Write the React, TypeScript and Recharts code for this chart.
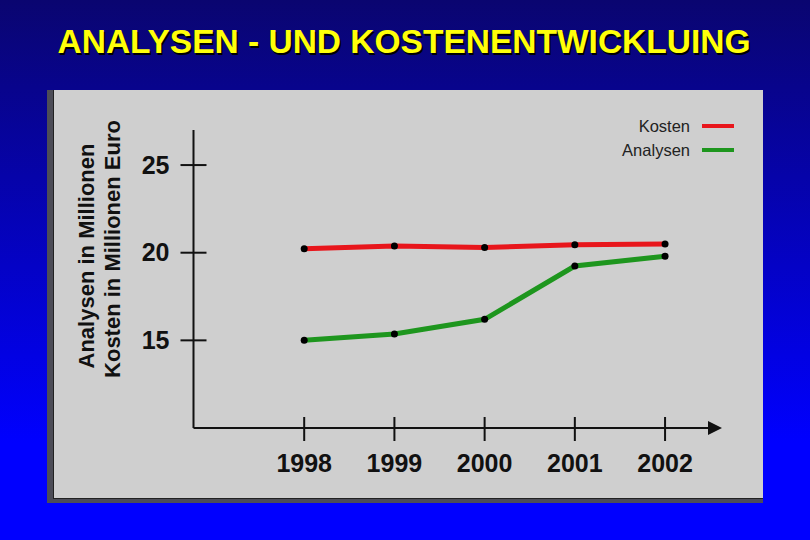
import React from "react"
import { LineChart, Line, XAxis, YAxis, Legend } from "recharts"

const years = [1998, 1999, 2000, 2001, 2002]
const kosten = [20.23, 20.38, 20.3, 20.45, 20.5]
const analysen = [15.0, 15.36, 16.2, 19.24, 19.8]
const seriesNames = ["Kosten", "Analysen"]
const yTicks = [15, 20, 25]
const yLabelLines = ["Analysen in Millionen", "Kosten in Millionen Euro"]
const title = "ANALYSEN - UND KOSTENENTWICKLUING"

const data = years.map((year, i) => ({ year, kosten: kosten[i], analysen: analysen[i] }))

const font = "'Liberation Sans', Arial, sans-serif"
const ink = "#111"

const YTick = (props: any) => {
  const { x, y, payload } = props
  return (
    <g>
      <line x1={x - 13} x2={x + 13} y1={y} y2={y} stroke={ink} strokeWidth={2} />
      <text x={x - 24} y={y} dy={8.5} textAnchor="end" fontFamily={font} fontWeight="bold" fontSize={25} fill={ink}>
        {payload.value}
      </text>
    </g>
  )
}

const XTick = (props: any) => {
  const { x, y, payload } = props
  return (
    <g>
      <line x1={x} x2={x} y1={y - 11} y2={y + 13} stroke={ink} strokeWidth={2} />
      <text x={x} y={y + 44} textAnchor="middle" fontFamily={font} fontWeight="bold" fontSize={25} fill={ink}>
        {payload.value}
      </text>
    </g>
  )
}

const YLabel = () => (
  <g fontFamily={font} fontWeight="bold" fontSize={22} fill={ink}>
    <text transform="translate(86.5,256) rotate(-90)" textAnchor="middle" dominantBaseline="central">
      {yLabelLines[0]}
    </text>
    <text transform="translate(112.5,249) rotate(-90)" textAnchor="middle" dominantBaseline="central">
      {yLabelLines[1]}
    </text>
  </g>
)

// zero-size wrapper so the legend does not shrink the plot area
const LegendContent = (props: any) => {
  const items = [...(props.payload || [])].sort(
    (a: any, b: any) => seriesNames.indexOf(a.value) - seriesNames.indexOf(b.value)
  )
  return (
    <div style={{ position: "absolute", right: 0, top: 0, width: 140 }}>
      {items.map((item: any) => (
        <div
          key={item.value}
          style={{ display: "flex", alignItems: "center", justifyContent: "flex-end", height: 24 }}
        >
          <span style={{ fontFamily: font, fontSize: 16.5, color: "#222", marginRight: 12 }}>{item.value}</span>
          <div style={{ width: 32, height: 4, background: item.color }} />
        </div>
      ))}
    </div>
  )
}

export default function App() {
  return (
    <div
      style={{
        position: "absolute",
        left: 0,
        top: 0,
        width: 810,
        height: 540,
        overflow: "hidden",
        background: "linear-gradient(to bottom, #0a0570 0%, #0000ff 82%, #0000ff 100%)",
      }}
    >
      <div
        style={{
          position: "absolute",
          left: 0,
          top: 23,
          width: 808,
          textAlign: "center",
          fontFamily: font,
          fontWeight: "bold",
          fontSize: 33.5,
          lineHeight: "38px",
          color: "#ffff0a",
          textShadow: "1.5px 1.5px 0 #000",
        }}
      >
        {title}
      </div>
      <div style={{ position: "absolute", left: 47, top: 90, width: 716, height: 413, background: "#4d4d57" }}>
        <div
          style={{
            position: "absolute",
            left: 6,
            top: 0,
            width: 710,
            height: 409,
            boxSizing: "border-box",
            background: "#cfcfcf",
            borderLeft: "1px solid #222",
            borderBottom: "1px solid #222",
          }}
        />
      </div>
      <div style={{ position: "absolute", left: 0, top: 0 }}>
        <LineChart width={810} height={540} data={data} margin={{ top: 130, right: 102, bottom: 52, left: 133.5 }}>
          <defs>
            <marker
              id="arrow"
              viewBox="0 0 14 14"
              markerWidth={14}
              markerHeight={14}
              markerUnits="userSpaceOnUse"
              refX={0}
              refY={7}
              orient="auto"
            >
              <path d="M0,0 L14,7 L0,14 z" fill={ink} />
            </marker>
          </defs>
          <XAxis
            dataKey="year"
            type="number"
            domain={[1996.773, 2002.476]}
            allowDataOverflow
            ticks={years}
            height={60}
            tickSize={0}
            tickMargin={0}
            tickLine={false}
            axisLine={{ stroke: ink, strokeWidth: 2, markerEnd: "url(#arrow)" }}
            tick={<XTick />}
          />
          <YAxis
            type="number"
            domain={[10, 27]}
            allowDataOverflow
            ticks={yTicks}
            width={60}
            tickSize={0}
            tickMargin={0}
            tickLine={false}
            axisLine={{ stroke: ink, strokeWidth: 2 }}
            tick={<YTick />}
            label={{ content: <YLabel /> }}
          />
          <Legend
            layout="vertical"
            align="right"
            verticalAlign="top"
            content={<LegendContent />}
            wrapperStyle={{ position: "absolute", left: 734, top: 114, width: 0, height: 0, overflow: "visible" }}
          />
          <Line
            type="linear"
            dataKey="kosten"
            name="Kosten"
            stroke="#e8161c"
            strokeWidth={5}
            dot={{ r: 3.5, fill: "#000", stroke: "none" }}
            isAnimationActive={false}
          />
          <Line
            type="linear"
            dataKey="analysen"
            name="Analysen"
            stroke="#1e961e"
            strokeWidth={5}
            dot={{ r: 3.5, fill: "#000", stroke: "none" }}
            isAnimationActive={false}
          />
        </LineChart>
      </div>
    </div>
  )
}
